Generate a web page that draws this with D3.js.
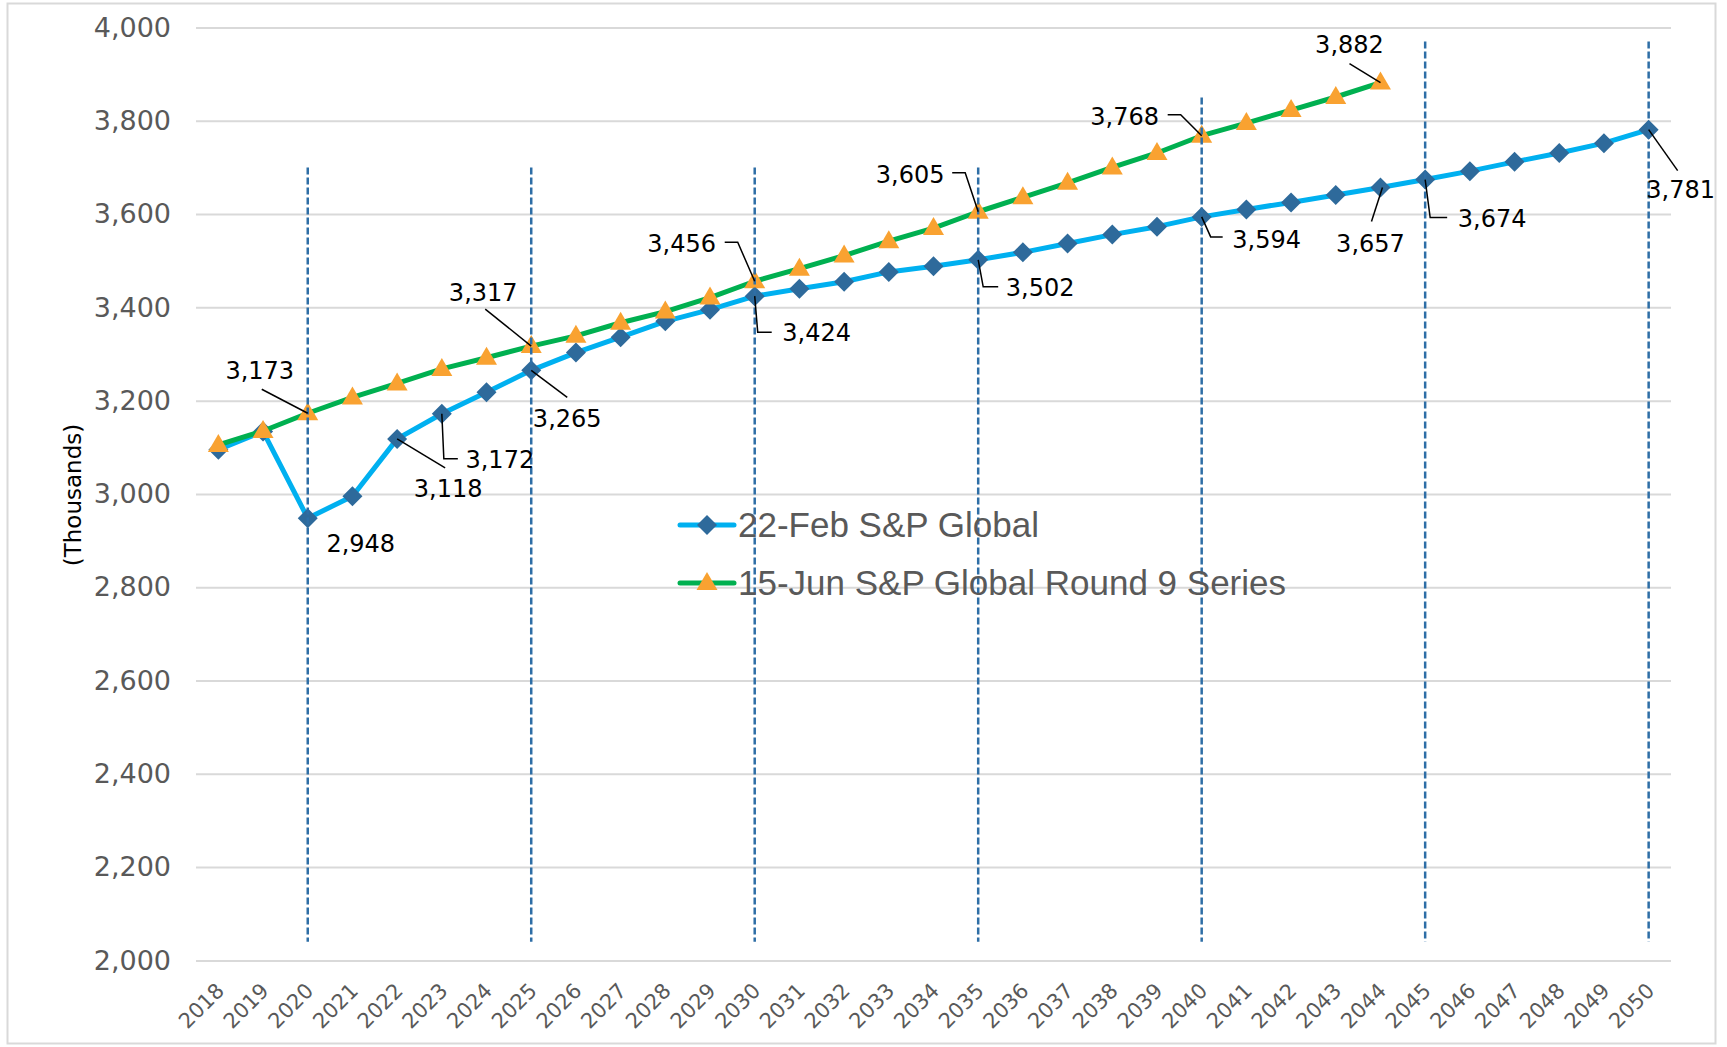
<!DOCTYPE html>
<html>
<head>
<meta charset="utf-8">
<script src="https://cdn.jsdelivr.net/npm/d3@7"></script>
<style>
  body { margin: 0; background: #fff; }
  svg { display: block; }
</style>
</head>
<body>
<div id="chart"></div>
<script>
var width = 1727;
var height = 1047;

// data
var years = d3.range(2018, 2051).map(String);
var febValues = [3095, 3134, 2948, 2995, 3118, 3172, 3218, 3265, 3303, 3336, 3370, 3395,
    3424, 3440, 3455, 3476, 3488, 3502, 3518, 3537, 3556, 3573, 3594, 3610, 3625, 3641,
    3657, 3674, 3692, 3712, 3731, 3752, 3781];
var junValues = [3105, 3135, 3173, 3207, 3237, 3268, 3292, 3317, 3339, 3367, 3391, 3421,
    3456, 3483, 3511, 3542, 3570, 3605, 3636, 3667, 3700, 3731, 3768, 3795, 3823, 3851, 3882];
var seriesNames = ["22-Feb S&P Global", "15-Jun S&P Global Round 9 Series"];
var yTicks = d3.range(2000, 4001, 200);
var markerYears = ["2020", "2025", "2030", "2035", "2040", "2045", "2050"];
var markerTops = [3700, 3700, 3700, 3700, 3850, 3970, 3970];
var markerBottom = 2040;

// labelled points: series, year, text offset, leader path (relative to point)
var labels = [
    {s: 1, year: "2020", dx: -48, dy: -43, path: [[-46, -24], [0, 0]]},
    {s: 1, year: "2025", dx: -48, dy: -54, path: [[-46, -37], [0, 0]]},
    {s: 0, year: "2025", dx: 36, dy: 48, path: [[0, 0], [36, 27]]},
    {s: 0, year: "2023", dx: 58, dy: 46, path: [[0, 0], [2, 45], [16, 45]]},
    {s: 0, year: "2022", dx: 51, dy: 49, path: [[0, 0], [48, 29]]},
    {s: 0, year: "2020", dx: 53, dy: 25, path: null},
    {s: 1, year: "2030", dx: -73, dy: -38, path: [[-30, -39], [-17, -39], [0, 0]]},
    {s: 0, year: "2030", dx: 62, dy: 36, path: [[0, 0], [3, 36], [17, 36]]},
    {s: 1, year: "2035", dx: -68, dy: -37, path: [[-26, -39], [-13, -39], [0, 0]]},
    {s: 0, year: "2035", dx: 62, dy: 28, path: [[0, 0], [5, 27], [20, 27]]},
    {s: 1, year: "2040", dx: -77, dy: -19, path: [[-34, -21], [-21, -21], [0, 0]]},
    {s: 0, year: "2040", dx: 65, dy: 22, path: [[0, 0], [9, 20], [21, 20]]},
    {s: 1, year: "2044", dx: -31, dy: -38, path: [[-31, -19], [0, 0]]},
    {s: 0, year: "2044", dx: -10, dy: 56, path: [[2, 0], [-9, 34]]},
    {s: 0, year: "2045", dx: 67, dy: 39, path: [[0, 0], [5, 38], [22, 38]]},
    {s: 0, year: "2050", dx: 32, dy: 60, path: [[0, 0], [29, 41]]}
];

var svg = d3.select("#chart").append("svg")
    .attr("width", width)
    .attr("height", height);

var x = d3.scaleBand().domain(years).range([196, 1671]);
var y = d3.scaleLinear().domain([2000, 4000]).range([960.4, 27.5]);
var fmt = d3.format(",");
var cx = function (yr) { return x(yr) + x.bandwidth() / 2; };

// chart border
svg.append("rect")
    .attr("x", 7.5).attr("y", 3.5)
    .attr("width", 1708).attr("height", 1040)
    .attr("fill", "none")
    .attr("stroke", "#d9d9d9")
    .attr("stroke-width", 2);

// grid + y labels
var yAxis = svg.append("g")
    .attr("transform", "translate(196,0)")
    .call(d3.axisLeft(y).tickValues(yTicks).tickFormat(fmt).tickSize(-1475).tickPadding(25));
yAxis.select(".domain").remove();
yAxis.selectAll("line").attr("stroke", "#d9d9d9").attr("stroke-width", 2);
yAxis.selectAll("text")
    .attr("fill", "#595959")
    .style("font-family", "DejaVu Sans")
    .style("font-size", "27px");

// x labels
var xAxis = svg.append("g")
    .attr("transform", "translate(0,992)")
    .call(d3.axisBottom(x).tickSize(0).tickPadding(0));
xAxis.select(".domain").remove();
xAxis.selectAll("text")
    .attr("fill", "#595959")
    .style("font-family", "DejaVu Sans")
    .style("font-size", "21px")
    .attr("text-anchor", "end")
    .attr("dy", "0")
    .attr("transform", "translate(7,0) rotate(-45)");

// y title
svg.append("text")
    .attr("transform", "translate(81,495) rotate(-90)")
    .attr("text-anchor", "middle")
    .style("font-family", "DejaVu Sans")
    .style("font-size", "23px")
    .attr("fill", "#000")
    .text("(Thousands)");

var diamond = "M0,-10L10,0L0,10L-10,0Z";
var triangle = "M0,-11L10.5,7L-10.5,7Z";

var line = d3.line()
    .x(function (d, i) { return cx(years[i]); })
    .y(function (d) { return y(d); });

// series 1
svg.append("path")
    .attr("d", line(febValues))
    .attr("fill", "none")
    .attr("stroke", "#00b0f0")
    .attr("stroke-width", 5)
    .attr("stroke-linejoin", "round");
svg.append("g").selectAll("path")
    .data(febValues)
    .join("path")
    .attr("d", diamond)
    .attr("transform", function (d, i) { return "translate(" + cx(years[i]) + "," + y(d) + ")"; })
    .attr("fill", "#2e6a9b");

// series 2
svg.append("path")
    .attr("d", line(junValues))
    .attr("fill", "none")
    .attr("stroke", "#00b050")
    .attr("stroke-width", 5)
    .attr("stroke-linejoin", "round");
svg.append("g").selectAll("path")
    .data(junValues)
    .join("path")
    .attr("d", triangle)
    .attr("transform", function (d, i) { return "translate(" + cx(years[i]) + "," + y(d) + ")"; })
    .attr("fill", "#f9a231");

// dashed markers
svg.append("g").selectAll("line")
    .data(markerYears)
    .join("line")
    .attr("x1", function (d) { return cx(d); })
    .attr("x2", function (d) { return cx(d); })
    .attr("y1", function (d, i) { return y(markerTops[i]); })
    .attr("y2", y(markerBottom))
    .attr("stroke", "#2e6ea6")
    .attr("stroke-width", 2.5)
    .attr("stroke-dasharray", "7,3");

// data labels
var seriesVals = [febValues, junValues];
var lab = svg.append("g");
labels.forEach(function (l) {
    var v = seriesVals[l.s][years.indexOf(l.year)];
    var px = cx(l.year), py = y(v);
    if (l.path) {
        lab.append("path")
            .attr("d", d3.line()(l.path.map(function (p) { return [px + p[0], py + p[1]]; })))
            .attr("fill", "none")
            .attr("stroke", "#000")
            .attr("stroke-width", 1.5);
    }
    lab.append("text")
        .attr("x", px + l.dx)
        .attr("y", py + l.dy)
        .attr("dy", "0.36em")
        .attr("text-anchor", "middle")
        .style("font-family", "DejaVu Sans")
        .style("font-size", "24px")
        .attr("fill", "#000")
        .text(fmt(v));
});

// legend
var legend = svg.append("g");
seriesNames.forEach(function (name, i) {
    var ly = 525 + i * 58;
    legend.append("line")
        .attr("x1", 680).attr("x2", 734)
        .attr("y1", ly).attr("y2", ly)
        .attr("stroke", i === 0 ? "#00b0f0" : "#00b050")
        .attr("stroke-width", 5)
        .attr("stroke-linecap", "round");
    legend.append("path")
        .attr("d", i === 0 ? diamond : triangle)
        .attr("transform", "translate(707," + ly + ")")
        .attr("fill", i === 0 ? "#2e6a9b" : "#f9a231");
    legend.append("text")
        .attr("x", 738)
        .attr("y", ly)
        .attr("dy", "0.35em")
        .style("font-family", "Liberation Sans")
        .style("font-size", "35px")
        .attr("fill", "#595959")
        .text(name);
});
</script>
</body>
</html>
